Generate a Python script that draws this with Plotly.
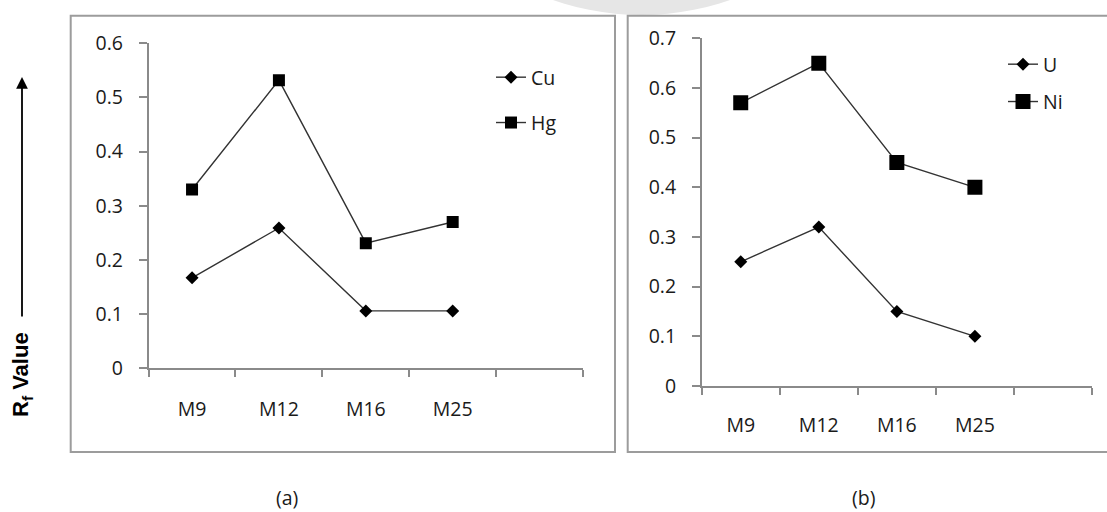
import plotly.graph_objects as go

W, H = 1107, 512

# ---- data ----
categories = ["M9", "M12", "M16", "M25"]
blank_slot = [" "]  # empty fifth category slot on each axis
cu_values = [0.167, 0.259, 0.106, 0.106]
hg_values = [0.330, 0.532, 0.231, 0.270]
u_values = [0.25, 0.32, 0.15, 0.10]
ni_values = [0.57, 0.65, 0.45, 0.40]
yticks_a = [0, 0.1, 0.2, 0.3, 0.4, 0.5, 0.6]
yticks_b = [0, 0.1, 0.2, 0.3, 0.4, 0.5, 0.6, 0.7]
panel_labels = ["(a)", "(b)"]

def px_x(p):
    return p / W

def px_y(p):
    return 1 - p / H

LINE_COL = "#333333"
AXIS_COL = "#8a8a8a"
TXT_COL = "#1a1a1a"
FONT = "Open Sans"
FS = 19.5

fig = go.Figure()

def add_series(name, xs, ys, symbol, size, xa, ya, legend, group):
    fig.add_trace(go.Scatter(
        x=xs, y=ys, name=name, mode="lines+markers",
        line=dict(color=LINE_COL, width=1.4),
        marker=dict(symbol=symbol, size=size, color="black",
                    line=dict(color="black", width=0)),
        xaxis=xa, yaxis=ya, legend=legend, legendgroup=group,
        hoverinfo="skip",
    ))

add_series("Cu", categories, cu_values, "diamond", 10, "x", "y", "legend", "cu")
add_series("Hg", categories, hg_values, "square", 12, "x", "y", "legend", "hg")
add_series("U", categories, u_values, "diamond", 10, "x2", "y2", "legend2", "u")
add_series("Ni", categories, ni_values, "square", 15, "x2", "y2", "legend2", "ni")

xcommon = dict(
    type="category", categoryorder="array", categoryarray=categories + blank_slot,
    range=[-0.5, 4.5], tickson="boundaries", ticks="outside", ticklen=7,
    tickcolor=AXIS_COL, tickwidth=1.5, showline=True, linecolor=AXIS_COL,
    linewidth=1.5, showgrid=False, zeroline=False, fixedrange=True,
    automargin=False,
    tickfont=dict(family=FONT, size=FS, color=TXT_COL),
)
ycommon = dict(
    ticks="outside", ticklen=8, tickcolor=AXIS_COL, tickwidth=1.5,
    showline=True, linecolor=AXIS_COL, linewidth=1.5, showgrid=False,
    zeroline=False, fixedrange=True, ticklabelstandoff=12, automargin=False,
    tickfont=dict(family=FONT, size=FS, color=TXT_COL),
)

fig.update_layout(
    width=W, height=H, margin=dict(l=0, r=0, t=0, b=0, pad=0),
    paper_bgcolor="white", plot_bgcolor="rgba(0,0,0,0)",
    xaxis=dict(domain=[px_x(148.6), px_x(583)], anchor="y",
               ticklabelstandoff=23, **xcommon),
    yaxis=dict(domain=[px_y(368.3), px_y(43.3)], anchor="x", range=[0, 0.6],
               tickvals=yticks_a, **ycommon),
    xaxis2=dict(domain=[px_x(701.7), px_x(1092)], anchor="y2",
                ticklabelstandoff=21, **xcommon),
    yaxis2=dict(domain=[px_y(386), px_y(38.3)], anchor="x2", range=[0, 0.7],
                tickvals=yticks_b, **ycommon),
    legend=dict(x=px_x(491), y=px_y(58), xanchor="left", yanchor="top",
                bgcolor="rgba(0,0,0,0)", tracegroupgap=17,
                font=dict(family=FONT, size=FS, color=TXT_COL)),
    legend2=dict(x=px_x(1003), y=px_y(45), xanchor="left", yanchor="top",
                 bgcolor="rgba(0,0,0,0)", tracegroupgap=9,
                 font=dict(family=FONT, size=FS, color=TXT_COL)),
    showlegend=True,
)

# watermark-like light circle at top
fig.add_shape(type="circle", xref="paper", yref="paper",
              x0=px_x(641.5 - 268.6), x1=px_x(641.5 + 268.6),
              y0=px_y(-253.6 + 268.6), y1=px_y(-253.6 - 268.6),
              fillcolor="#e6e6e6", line=dict(width=0), layer="below")

# panel frames
for (x0, x1) in [(70.7, 615), (627.7, 1112)]:
    fig.add_shape(type="rect", xref="paper", yref="paper",
                  x0=px_x(x0), x1=px_x(x1), y0=px_y(452), y1=px_y(15.7),
                  line=dict(color="#9c9c9c", width=2), fillcolor="white",
                  layer="below")

# panel labels
for lab, cx in zip(panel_labels, [287, 863]):
    fig.add_annotation(text=lab, x=px_x(cx), y=px_y(497), xref="paper",
                       yref="paper", showarrow=False, xanchor="center",
                       yanchor="middle",
                       font=dict(family=FONT, size=FS, color=TXT_COL))

# y-axis title with upward arrow
fig.add_annotation(text="<b>R<sub>f</sub> Value</b>", x=px_x(22), y=px_y(375),
                   xref="paper", yref="paper", showarrow=False, textangle=-90,
                   xanchor="center", yanchor="middle",
                   font=dict(family="Liberation Sans", size=22, color="black"))
fig.add_annotation(text="", x=px_x(22), y=px_y(77), xref="paper", yref="paper",
                   showarrow=True, ax=0, ay=241, arrowhead=2, arrowsize=1.3,
                   arrowwidth=1.8, arrowcolor="black")

fig.write_html("out.html", config={"displayModeBar": False},
               post_script="document.body.style.margin='0';")
